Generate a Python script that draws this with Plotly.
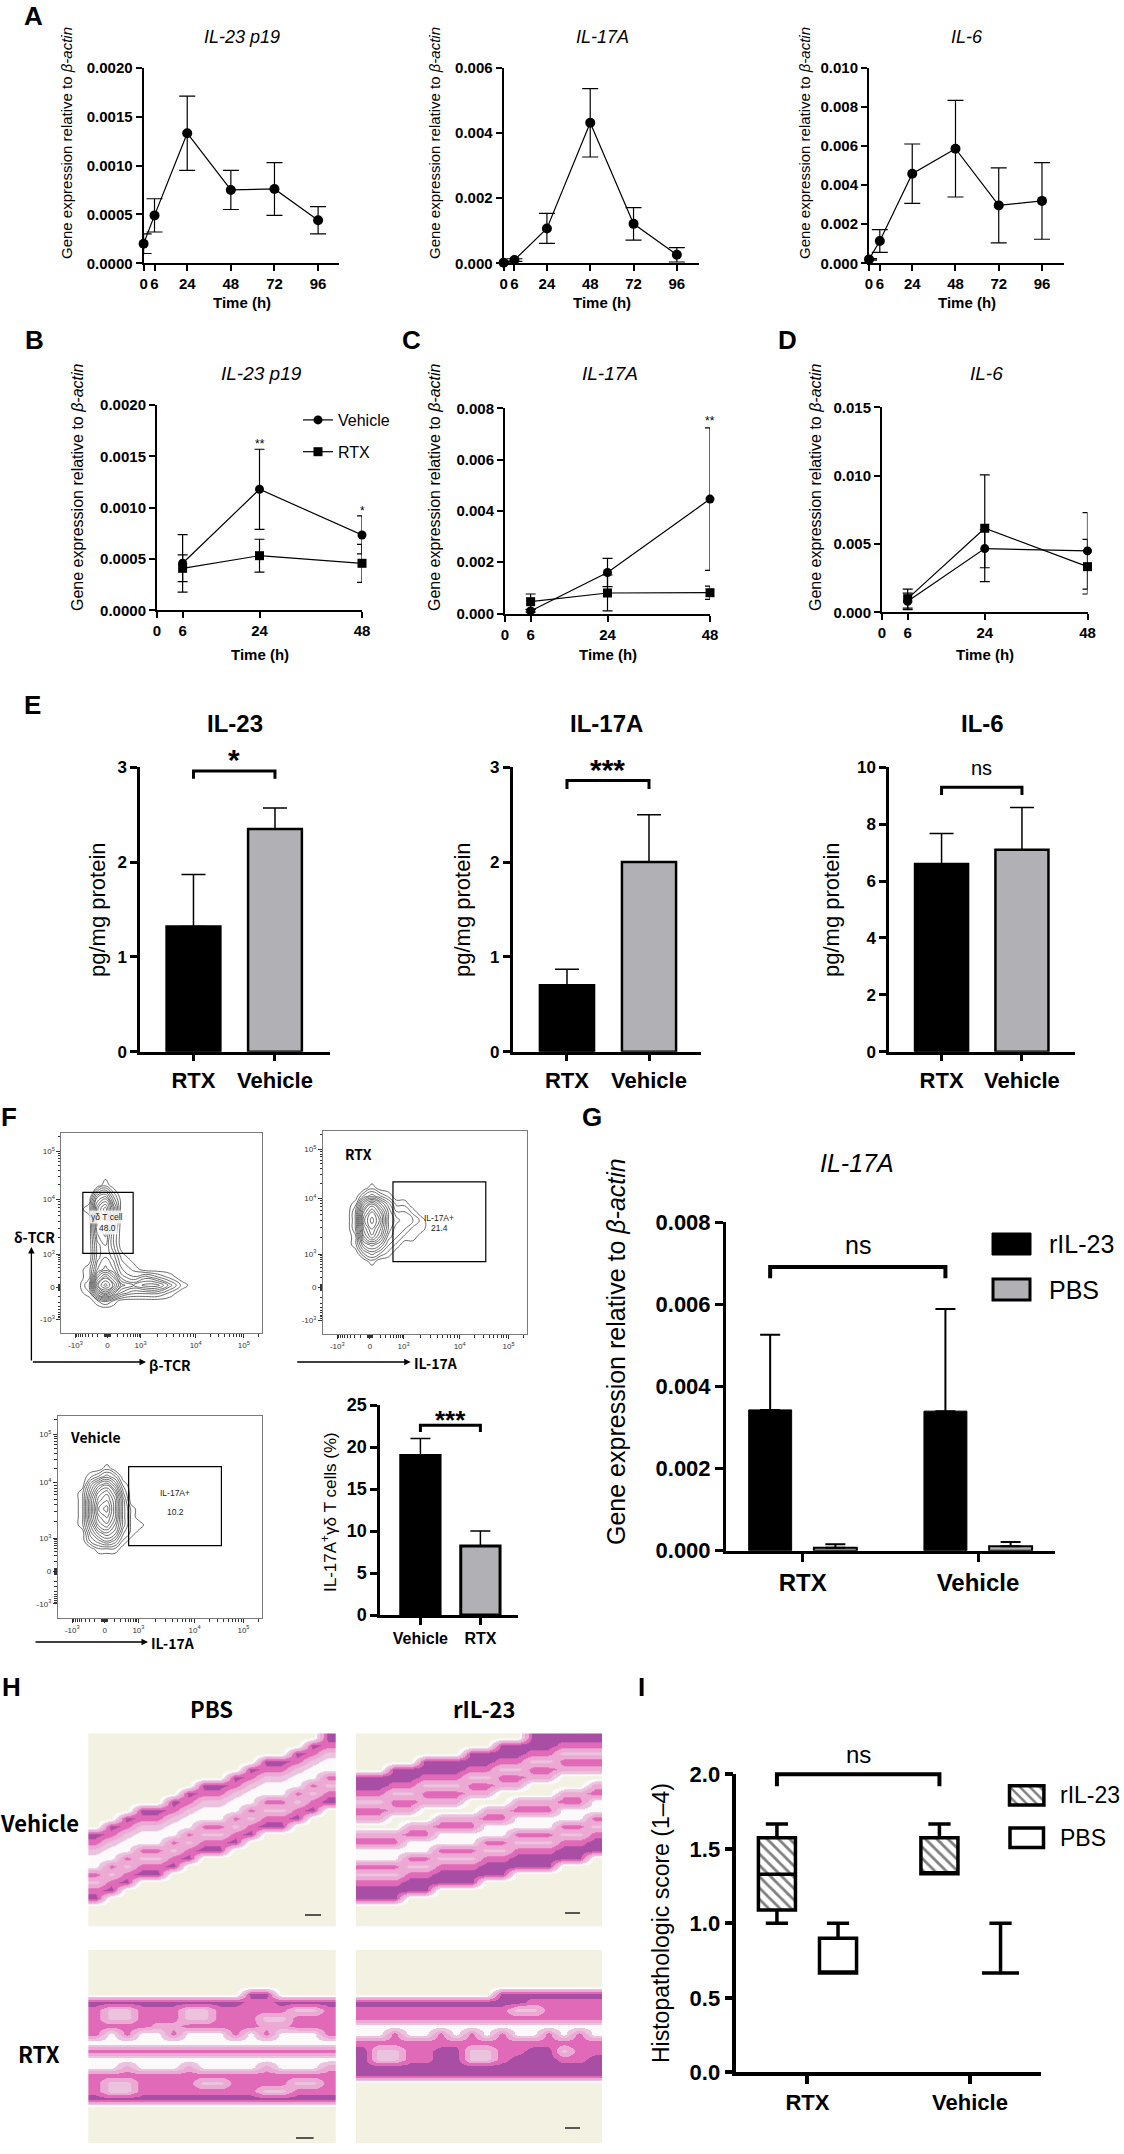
import math
import plotly.graph_objects as go

W, H = 1124, 2154
FONT = "Liberation Sans, Arial, sans-serif"
CJK = "Noto Sans CJK SC, Noto Sans, sans-serif"
GREY = "#b1b1b5"

# ======================= DATA =======================
# A: time course (gene expression relative to beta-actin)
a_time = [0, 6, 24, 48, 72, 96]
a_il23 = [0.00020, 0.00049, 0.00133, 0.00075, 0.00076, 0.00044]
a_il23_err = [0.00010, 0.00017, 0.00038, 0.00020, 0.00027, 0.00014]
a_il17 = [0.00002, 0.00010, 0.00107, 0.00431, 0.00121, 0.00026]
a_il17_err = [0.00002, 0.00004, 0.00046, 0.00105, 0.00050, 0.00022]
a_il6 = [0.00020, 0.00114, 0.00458, 0.00586, 0.00296, 0.00319]
a_il6_err = [0.00004, 0.00058, 0.00152, 0.00247, 0.00192, 0.00196]
a_titles = ["IL-23 p19", "IL-17A", "IL-6"]
a_yticks = [[0, 0.0005, 0.0010, 0.0015, 0.0020],
            [0, 0.002, 0.004, 0.006],
            [0, 0.002, 0.004, 0.006, 0.008, 0.010]]

# B-D: Vehicle vs RTX
bd_time = [6, 24, 48]
bd_xticks = [0, 6, 24, 48]
b_veh = [0.000458, 0.001179, 0.000734]
b_veh_err = [0.00028, 0.00039, 0.000185]
b_rtx = [0.000409, 0.000532, 0.000458]
b_rtx_err = [0.00013, 0.00016, 0.000185]
c_veh = [0.00010, 0.00160, 0.00446]
c_veh_err = [0.00005, 0.00055, 0.00278]
c_rtx = [0.00046, 0.00080, 0.00081]
c_rtx_err = [0.00030, 0.00070, 0.00026]
d_veh = [0.00080, 0.00466, 0.00449]
d_veh_err = [0.00060, 0.00140, 0.00280]
d_rtx = [0.00100, 0.00615, 0.00334]
d_rtx_err = [0.00070, 0.00390, 0.00200]
bd_titles = ["IL-23 p19", "IL-17A", "IL-6"]
bd_yticks = [[0, 0.0005, 0.0010, 0.0015, 0.0020],
             [0, 0.002, 0.004, 0.006, 0.008],
             [0, 0.005, 0.010, 0.015]]
b_stars = [(24, 0.00162, "**"), (48, 0.00097, "*")]
c_stars = [(48, 0.00750, "**")]

# E: ELISA protein
e_groups = ["RTX", "Vehicle"]
e_titles = ["IL-23", "IL-17A", "IL-6"]
e_means = [[1.32, 2.35], [0.70, 2.00], [6.60, 7.10]]
e_errs = [[0.55, 0.22], [0.17, 0.50], [1.07, 1.49]]
e_yticks = [[0, 1, 2, 3], [0, 1, 2, 3], [0, 2, 4, 6, 8, 10]]
e_sig_level = [2.96, 2.86, 9.3]
e_sig_text = ["*", "***", "ns"]

# F: flow cytometry (display units of biexponential axes)
flow_ticktext = ["-10<sup>3</sup>", "0", "10<sup>3</sup>", "10<sup>4</sup>", "10<sup>5</sup>"]
flow_tickpos = [7, 23, 39.5, 67, 91]
f1_x = [8, 14, 18, 22, 26, 30, 36, 42, 48, 54, 60, 66]
f1_y = [12, 16, 20, 24, 28, 32, 38, 44, 50, 56, 62, 68, 74, 80]
f1_z = [
    [0, 0, 0, 0, 0, 0, 0, 0, 0, 0, 0, 0],
    [0, 0, 1, 2, 1, 0, 0, 0, 0, 0, 0, 0],
    [0, 1, 5, 7, 5, 3, 2, 2, 2, 1, 0, 0],
    [0, 2, 8, 10, 8, 5, 4, 5, 5, 3, 1, 0],
    [0, 1, 6, 8, 6, 3, 2, 3, 2, 1, 0, 0],
    [0, 1, 4, 5, 4, 2, 1, 0, 0, 0, 0, 0],
    [0, 0, 3, 4, 3, 1, 0, 0, 0, 0, 0, 0],
    [0, 0, 3, 4, 2, 0, 0, 0, 0, 0, 0, 0],
    [0, 0, 4, 5, 2, 0, 0, 0, 0, 0, 0, 0],
    [0, 0, 5, 6, 3, 0, 0, 0, 0, 0, 0, 0],
    [0, 1, 6, 8, 4, 0, 0, 0, 0, 0, 0, 0],
    [0, 0, 4, 5, 2, 0, 0, 0, 0, 0, 0, 0],
    [0, 0, 0, 1, 0, 0, 0, 0, 0, 0, 0, 0],
    [0, 0, 0, 0, 0, 0, 0, 0, 0, 0, 0, 0],
]
f2_x = [12, 16, 20, 24, 28, 32, 36, 40, 44, 48, 52, 56]
f2_y = [32, 36, 40, 44, 48, 52, 56, 60, 64, 68, 72, 76]
f2_z = [
    [0, 0, 0, 0, 0, 0, 0, 0, 0, 0, 0, 0],
    [0, 0, 0, 1, 0, 0, 0, 0, 0, 0, 0, 0],
    [0, 0, 2, 3, 2, 1, 0, 0, 0, 0, 0, 0],
    [0, 1, 4, 5, 4, 2, 1, 0, 0, 0, 0, 0],
    [0, 1, 6, 8, 6, 3, 2, 1, 1, 0, 0, 0],
    [0, 2, 7, 9, 7, 4, 2, 2, 1, 1, 0, 0],
    [0, 2, 8, 10, 8, 4, 3, 2, 2, 1, 0, 0],
    [0, 2, 7, 9, 7, 4, 2, 2, 1, 0, 0, 0],
    [0, 1, 5, 7, 5, 3, 1, 1, 0, 0, 0, 0],
    [0, 0, 2, 3, 2, 1, 0, 0, 0, 0, 0, 0],
    [0, 0, 0, 1, 0, 0, 0, 0, 0, 0, 0, 0],
    [0, 0, 0, 0, 0, 0, 0, 0, 0, 0, 0, 0],
]
f3_x = [8, 12, 16, 20, 24, 28, 32, 36, 40, 44, 48]
f3_y = [30, 34, 38, 42, 46, 50, 54, 58, 62, 66, 70, 74, 78]
f3_z = [
    [0, 0, 0, 0, 0, 0, 0, 0, 0, 0, 0],
    [0, 0, 0, 1, 1, 1, 0, 0, 0, 0, 0],
    [0, 0, 2, 3, 4, 3, 1, 0, 0, 0, 0],
    [0, 0, 3, 5, 6, 5, 2, 1, 0, 0, 0],
    [0, 1, 4, 7, 8, 6, 3, 1, 1, 0, 0],
    [0, 1, 5, 8, 9, 7, 3, 1, 0, 0, 0],
    [0, 1, 5, 9, 10, 7, 3, 1, 0, 0, 0],
    [0, 1, 5, 8, 9, 7, 3, 0, 0, 0, 0],
    [0, 1, 4, 7, 8, 6, 2, 0, 0, 0, 0],
    [0, 0, 3, 5, 6, 4, 1, 0, 0, 0, 0],
    [0, 0, 1, 2, 3, 2, 0, 0, 0, 0, 0],
    [0, 0, 0, 0, 1, 0, 0, 0, 0, 0, 0],
    [0, 0, 0, 0, 0, 0, 0, 0, 0, 0, 0],
]
gate1 = dict(x=[10.7, 35.8], y=[40, 70.5], label="γδ T cell", value="48.0")
gate2 = dict(x=[34.3, 79.8], y=[35.7, 75], label="IL-17A+", value="21.4")
gate3 = dict(x=[34.7, 80.2], y=[35.8, 74.9], label="IL-17A+", value="10.2")

f_groups = ["Vehicle", "RTX"]
f_vals = [19.0, 8.2]
f_errs = [2.0, 1.8]
f_yticks = [0, 5, 10, 15, 20, 25]

# G: rIL-23 vs PBS
g_groups = ["RTX", "Vehicle"]
g_ril23 = [0.00343, 0.00340]
g_ril23_err = [0.00183, 0.00249]
g_pbs = [0.00007, 0.00011]
g_pbs_err = [0.00009, 0.00010]
g_yticks = [0, 0.002, 0.004, 0.006, 0.008]

# H: histology (coarse tissue map: 0 bg, 1 loose tissue, 2 dermis, 3 epidermis, 4 fat/gap, 5 gland)
h_tissue_colors = {'0': "#f2f1e2", '4': "#fcf9fb", '5': "#ebc3de", '1': "#eba9d3", '2': "#e06ab7", '3': "#a94ea5"}
h_rank = ['0', '4', '5', '1', '2', '3']          # colour order, light -> dark
h_vehicle_pbs = [
    "0000000000000003", "0000000000000032", "0000000000000325", "0000000000033254",
    "0000000000322544", "0000000003255442", "0000000332544425", "0000003225444252",
    "0000032554422523", "0003325444255230", "0032254442522300", "0325544225233000",
    "3254442552300000", "2544425223000000", "5442252330000000", "4425523000000000",
    "4252230000000000", "2523300000000000", "5230000000000000", "2300000000000000",
    "3000000000000000", "0000000000000000", "0000000000000000", "0000000000000000",
]
h_vehicle_ril23 = [
    "0000000000033333", "0000000003333222", "0000000333322555", "0000333332255222",
    "0033333225522111", "3333222552211000", "3322555221100001", "2255222110000112",
    "5522111000111224", "2211000011222444", "1100011122444442", "0001122244444225",
    "1112244444222552", "2224444422555223", "4444422255222333", "4442255522333330",
    "2225522233333000", "5552233333000000", "2223333300000000", "3333300000000000",
    "3330000000000000", "0000000000000000", "0000000000000000", "0000000000000000",
]
h_rtx_pbs = [
    "0000000000000000", "0000000000000000", "0000000000000000", "0000000000000000",
    "0000000000000000", "0000000000330000", "3333333333223333", "2552225522222552",
    "2552225522255222", "2222112222211222", "2424424442424442", "4444444444444444",
    "2222222222222222", "4444444444444444", "4414441444414441", "2222222222222222",
    "2552222552222552", "2552222222255222", "3333333333333333", "0000000000000000",
    "0000000000000000", "0000000000000000", "0000000000000000", "0000000000000000",
]
h_rtx_ril23 = [
    "0000000000000000", "0000000000000000", "0000000000000000", "0000000000000000",
    "0000000000000000", "0000000003333333", "3333333333322222", "2222222222552222",
    "2222222222222222", "4444444444444444", "4424424242442424", "2222222222222222",
    "3552233552233522", "3552233552333223", "3333333333333333", "3333333333333333",
    "0000000000000000", "0000000000000000", "0000000000000000", "0000000000000000",
    "0000000000000000", "0000000000000000", "0000000000000000", "0000000000000000",
]

# I: histopathologic score (box stats)
i_groups = ["RTX", "Vehicle"]
i_ril23_lo = [1.000, 1.333]
i_ril23_q1 = [1.090, 1.333]
i_ril23_med = [1.330, 1.333]
i_ril23_q3 = [1.575, 1.575]
i_ril23_hi = [1.667, 1.667]
i_pbs_lo = [0.667, 0.667]
i_pbs_q1 = [0.667, 0.667]
i_pbs_med = [0.667, 0.667]
i_pbs_q3 = [0.900, 0.667]
i_pbs_hi = [1.000, 1.000]
i_yticks = [0, 0.5, 1.0, 1.5, 2.0]

# ======================= LAYOUT GEOMETRY (px) =======================
POS = {
    'A1': (143.6, 339, 67.7, 263.3), 'A2': (503.6, 698.5, 67.7, 263.3), 'A3': (869, 1063.6, 67.7, 263.3),
    'B': (157, 362, 405, 610.3), 'C': (505, 710, 408.3, 613.5), 'D': (882, 1087.5, 407.3, 612.3),
    'E1': (140, 330, 767.3, 1051.7), 'E2': (512.6, 701, 767.3, 1051.7), 'E3': (889, 1075, 767.3, 1051.7),
    'F1': (61.4, 261.8, 1133.3, 1333.3), 'F2': (323, 527, 1131, 1334.3), 'F3': (57.9, 261.8, 1416, 1618),
    'Fb': (380.4, 518, 1405, 1615), 'G': (726, 1054.6, 1222.3, 1550.7),
    'H1': (88.2, 335.7, 1733.3, 1926.7), 'H2': (356, 602, 1733.3, 1926.7),
    'H3': (88.2, 335.7, 1950, 2143), 'H4': (356, 602, 1950, 2143),
    'I': (736.3, 1041, 1774.3, 2072.3),
}

fig = go.Figure()
lay = dict(width=W, height=H, margin=dict(l=0, r=0, t=0, b=0, pad=0, autoexpand=False),
           paper_bgcolor='white', plot_bgcolor='rgba(0,0,0,0)', barmode='overlay',
           boxmode='overlay', hovermode=False,
           font=dict(family=FONT, color='black'), showlegend=True)
ann, shp = [], []
_n = [0]


def make_axes(dom, xrange, yrange, xstyle, ystyle):
    _n[0] += 1
    n = _n[0]
    s = '' if n == 1 else str(n)
    x0, x1, t, b = dom
    xa = dict(domain=[x0 / W, x1 / W], range=xrange, anchor='y' + s, fixedrange=True)
    ya = dict(domain=[1 - b / H, 1 - t / H], range=yrange, anchor='x' + s, fixedrange=True)
    xa.update(xstyle)
    ya.update(ystyle)
    lay['xaxis' + s] = xa
    lay['yaxis' + s] = ya
    return 'x' + s, 'y' + s


def prism(lw, tl, fs, **kw):
    d = dict(showline=True, linecolor='black', linewidth=lw, ticks='outside', ticklen=tl,
             tickwidth=lw, tickcolor='black', showgrid=False, zeroline=False,
             tickfont=dict(family=FONT, size=fs, color='black', weight='bold'))
    d.update(kw)
    return d


HIDDEN = dict(visible=False, showgrid=False, zeroline=False)


def txt(t, x, y, size, bold=False, italic=False, angle=0, family=FONT, xanchor='center',
        yanchor='middle', xref='paper', yref='paper', color='black', bg=None):
    f = dict(family=family, size=size, color=color)
    if bold:
        f['weight'] = 'bold'
    if italic:
        f['style'] = 'italic'
    a = dict(text=t, showarrow=False, font=f, textangle=angle, xanchor=xanchor, yanchor=yanchor,
             xref=xref, yref=yref,
             x=(x / W if xref == 'paper' else x), y=(1 - y / H if yref == 'paper' else y))
    if bg:
        a['bgcolor'] = bg
    ann.append(a)


def sig(xr, yr, x0, x1, level, drop, lw):
    fig.add_trace(go.Scatter(x=[x0, x0, x1, x1], y=[level - drop, level, level, level - drop],
                             mode='lines', line=dict(color='black', width=lw), showlegend=False,
                             hoverinfo='skip', xaxis=xr, yaxis=yr))


YT = "Gene expression relative to <i>β-actin</i>"

# ---------------- Panel A ----------------
a_sets = [(a_il23, a_il23_err), (a_il17, a_il17_err), (a_il6, a_il6_err)]
a_keys = ['A1', 'A2', 'A3']
a_xmax = [107.5, 108, 108]
a_fmt = ['.4f', '.3f', '.3f']
a_ytitle_x = [66, 434, 804]
for i in range(3):
    xr, yr = make_axes(POS[a_keys[i]], [0, a_xmax[i]], [0, a_yticks[i][-1]],
                       prism(2, 6, 15, tickvals=a_time),
                       prism(2, 6, 15, tickvals=a_yticks[i], tickformat=a_fmt[i]))
    y, e = a_sets[i]
    fig.add_trace(go.Scatter(x=a_time, y=y, mode='lines+markers',
                             error_y=dict(type='data', array=e, color='black', thickness=1.2, width=8),
                             line=dict(color='black', width=1.2),
                             marker=dict(symbol='circle', size=10, color='black'),
                             showlegend=False, cliponaxis=False, xaxis=xr, yaxis=yr))
    x0, x1, t, b = POS[a_keys[i]]
    cx = x0 + (x1 - x0) * 0.506
    txt(a_titles[i], cx, 37, 18, italic=True)
    txt("Time (h)", cx, 303, 15, bold=True)
    txt(YT, a_ytitle_x[i], 143, 15, angle=-90)

# ---------------- Panels B-D ----------------
bd_sets = [(b_veh, b_veh_err, b_rtx, b_rtx_err), (c_veh, c_veh_err, c_rtx, c_rtx_err),
           (d_veh, d_veh_err, d_rtx, d_rtx_err)]
bd_keys = ['B', 'C', 'D']
bd_fmt = ['.4f', '.3f', '.3f']
bd_ytitle_x = [77, 434, 815]
bd_refs = []
for i in range(3):
    xr, yr = make_axes(POS[bd_keys[i]], [0, 48], [0, bd_yticks[i][-1]],
                       prism(2, 6, 15, tickvals=bd_xticks),
                       prism(2, 6, 15, tickvals=bd_yticks[i], tickformat=bd_fmt[i]))
    bd_refs.append((xr, yr))
    veh, veh_e, rtx, rtx_e = bd_sets[i]
    fig.add_trace(go.Scatter(x=bd_time, y=veh, mode='lines+markers', name='Vehicle',
                             legendgroup='veh', showlegend=(i == 0),
                             error_y=dict(type='data', array=veh_e, color='black', thickness=1.2, width=5),
                             line=dict(color='black', width=1.2),
                             marker=dict(symbol='circle', size=9, color='black'),
                             cliponaxis=False, xaxis=xr, yaxis=yr))
    fig.add_trace(go.Scatter(x=bd_time, y=rtx, mode='lines+markers', name='RTX',
                             legendgroup='rtx', showlegend=(i == 0),
                             error_y=dict(type='data', array=rtx_e, color='black', thickness=1.2, width=5),
                             line=dict(color='black', width=1.2),
                             marker=dict(symbol='square', size=9, color='black'),
                             cliponaxis=False, xaxis=xr, yaxis=yr))
    x0, x1, t, b = POS[bd_keys[i]]
    cx = (x0 + x1) / 2
    txt(bd_titles[i], cx + 2, 374, 19, italic=True)
    txt("Time (h)", cx, 655, 15, bold=True)
    txt(YT, bd_ytitle_x[i], 487, 16, angle=-90)

for (xv, yv, s) in b_stars:
    txt(s, xv, yv, 12, xref=bd_refs[0][0], yref=bd_refs[0][1])
for (xv, yv, s) in c_stars:
    txt(s, xv, yv, 12, xref=bd_refs[1][0], yref=bd_refs[1][1])

# ---------------- Panel E ----------------
e_keys = ['E1', 'E2', 'E3']
e_xr = [[-0.656, 1.675], [-0.663, 1.634], [-0.654, 1.66]]
e_drop = [0.08, 0.09, 0.27]
e_ytitle_x = [97, 462, 831]
e_sig_size = [30, 30, 20]
e_sig_text_px = [759, 769, 768]
for i in range(3):
    xr, yr = make_axes(POS[e_keys[i]], e_xr[i], [0, e_yticks[i][-1]],
                       prism(2.5, 7, 22, tickvals=[0, 1], ticktext=e_groups),
                       prism(2.5, 7, 17, tickvals=e_yticks[i]))
    fig.add_trace(go.Bar(x=[0, 1], y=e_means[i], width=0.66,
                         marker=dict(color=['black', GREY], line=dict(color='black', width=2.5)),
                         error_y=dict(type='data', array=e_errs[i], arrayminus=[0, 0], color='black',
                                      thickness=1.5, width=12),
                         showlegend=False, xaxis=xr, yaxis=yr))
    sig(xr, yr, 0, 1, e_sig_level[i], e_drop[i], 3)
    x0, x1, t, b = POS[e_keys[i]]
    cxb = x0 + (x1 - x0) * (0.5 - e_xr[i][0]) / (e_xr[i][1] - e_xr[i][0])
    txt(e_sig_text[i], cxb, e_sig_text_px[i], e_sig_size[i], bold=(i < 2))
    cx = (x0 + x1) / 2
    txt(e_titles[i], cx, 723, 24, bold=True)
    txt("pg/mg protein", e_ytitle_x[i], 910, 22, angle=-90)

# ---------------- Panel F: flow cytometry ----------------
flow_minor = []
for lo, hi in [(39.5, 67), (67, 91)]:
    for k in range(2, 10):
        flow_minor.append(lo + (hi - lo) * math.log10(k))
for k in (2, 3):
    flow_minor.append(91 + 24 * math.log10(k))
for k in range(2, 10):
    flow_minor.append(23 + 16.5 * math.log10(k))
    flow_minor.append(23 - 16 * math.log10(k))
flow_minor += [21.6, 22.1, 22.6, 23.4, 23.9, 24.4]


def flow_axis():
    return dict(showline=True, mirror=True, linecolor='#7a7a7a', linewidth=1, ticks='outside',
                ticklen=4, tickwidth=1, tickcolor='#333', showgrid=False, zeroline=False,
                tickmode='array', tickvals=flow_tickpos, ticktext=flow_ticktext,
                tickfont=dict(family=FONT, size=8, color='#333'),
                minor=dict(tickmode='array', tickvals=flow_minor, ticks='outside', ticklen=2.5,
                           tickwidth=0.8, tickcolor='#333'))


flows = [('F1', f1_x, f1_y, f1_z, gate1), ('F2', f2_x, f2_y, f2_z, gate2), ('F3', f3_x, f3_y, f3_z, gate3)]
for key, fx, fy, fz, gate in flows:
    xr, yr = make_axes(POS[key], [0, 100], [0, 100], flow_axis(), flow_axis())
    fig.add_trace(go.Contour(x=fx, y=fy, z=fz, showscale=False, hoverinfo='skip', showlegend=False,
                             contours=dict(start=0.5, end=10, size=0.7, coloring='none'),
                             line=dict(color='#454545', width=0.8, smoothing=1.3),
                             xaxis=xr, yaxis=yr))
    shp.append(dict(type='rect', xref=xr, yref=yr, x0=gate['x'][0], x1=gate['x'][1],
                    y0=gate['y'][0], y1=gate['y'][1], line=dict(color='black', width=1.2)))
    gx = (gate['x'][0] + gate['x'][1]) / 2 if key != 'F1' else 22.8
    ly = 58.3 if key == 'F1' else (57.2 if key == 'F2' else 61.7)
    vy = 52.6 if key != 'F2' else 52.3
    bg = 'rgba(255,255,255,0.8)' if key == 'F1' else None
    txt(gate['label'], gx, ly, 8.5, xref=xr, yref=yr, color='#222', bg=bg)
    txt(gate['value'], gx, vy, 8.5, xref=xr, yref=yr, color='#222', bg=bg)

txt("RTX", 343, 1154, 14, bold=True, family=CJK, xanchor='left')
txt("Vehicle", 68, 1437, 14, bold=True, family=CJK, xanchor='left')


def arrow(hx, hy, tx, ty):
    ann.append(dict(x=hx / W, y=1 - hy / H, xref='paper', yref='paper', ax=tx - hx, ay=ty - hy,
                    axref='pixel', ayref='pixel', showarrow=True, arrowhead=2, arrowsize=1,
                    arrowwidth=1.3, arrowcolor='black', text=''))


arrow(31.4, 1247, 31.4, 1362)
arrow(146, 1362, 31.4, 1362)
arrow(410.7, 1362, 295.7, 1362)
arrow(148, 1642, 34, 1642)
txt("δ-TCR", 34, 1237, 14, bold=True, family=CJK)
txt("β-TCR", 170, 1365, 14, bold=True, family=CJK)
txt("IL-17A", 436, 1363, 14, bold=True, family=CJK)
txt("IL-17A", 173, 1643, 14, bold=True, family=CJK)

# F bar chart
xr, yr = make_axes(POS['Fb'], [-0.667, 1.627], [0, 25],
                   prism(3, 7, 16, tickvals=[0, 1], ticktext=f_groups),
                   prism(3, 7, 18, tickvals=f_yticks))
fig.add_trace(go.Bar(x=[0, 1], y=f_vals, width=0.655,
                     marker=dict(color=['black', GREY], line=dict(color='black', width=3)),
                     error_y=dict(type='data', array=f_errs, arrayminus=[0, 0], color='black',
                                  thickness=1.5, width=10),
                     showlegend=False, xaxis=xr, yaxis=yr))
sig(xr, yr, 0, 1, 22.6, 0.8, 3)
txt("***", 0.5, 23.2, 26, bold=True, xref=xr, yref=yr)
txt("IL-17A<sup>+</sup>γδ T cells (%)", 329, 1512, 17, angle=-90)

# ---------------- Panel G ----------------
xr, yr = make_axes(POS['G'], [-0.438, 1.437], [0, 0.008],
                   prism(3, 8, 24, tickvals=[0, 1], ticktext=g_groups),
                   prism(3, 8, 22, tickvals=g_yticks, tickformat='.3f'))
fig.add_trace(go.Bar(x=[0, 1], y=g_ril23, width=0.245, offset=-0.3085,
                     marker=dict(color='black', line=dict(color='black', width=1)),
                     error_y=dict(type='data', array=g_ril23_err, arrayminus=[0, 0], color='black',
                                  thickness=2, width=10),
                     showlegend=False, xaxis=xr, yaxis=yr))
fig.add_trace(go.Bar(x=[0, 1], y=g_pbs, width=0.245, offset=0.0635,
                     marker=dict(color=GREY, line=dict(color='black', width=2)),
                     error_y=dict(type='data', array=g_pbs_err, arrayminus=[0, 0], color='black',
                                  thickness=2, width=10),
                     showlegend=False, xaxis=xr, yaxis=yr))
sig(xr, yr, -0.186, 1 - 0.186, 0.00691, 0.00027, 4)
txt("ns", 0.5 - 0.186, 0.00745, 25, xref=xr, yref=yr)
txt("<i>IL-17A</i>", 857, 1163, 25)
txt(YT, 616, 1352, 25, angle=-90)
shp.append(dict(type='rect', xref='paper', yref='paper', x0=992 / W, x1=1031 / W,
                y0=1 - 1255 / H, y1=1 - 1233 / H, fillcolor='black', line=dict(color='black', width=1)))
shp.append(dict(type='rect', xref='paper', yref='paper', x0=993 / W, x1=1030 / W,
                y0=1 - 1300 / H, y1=1 - 1279 / H, fillcolor=GREY, line=dict(color='black', width=3)))
txt("rIL-23", 1047, 1244, 25, xanchor='left')
txt("PBS", 1047, 1290, 25, xanchor='left')

# ---------------- Panel H: histology ----------------
h_cs = []
for k, code in enumerate(h_rank):
    h_cs += [[k / 6, h_tissue_colors[code]], [(k + 1) / 6, h_tissue_colors[code]]]
for key, rows in [('H1', h_vehicle_pbs), ('H2', h_vehicle_ril23), ('H3', h_rtx_pbs), ('H4', h_rtx_ril23)]:
    xr, yr = make_axes(POS[key], [-0.5, 15.5], [23.5, -0.5], HIDDEN, HIDDEN)
    fig.add_trace(go.Heatmap(z=[[h_rank.index(ch) for ch in r] for r in rows], zmin=-0.5, zmax=5.5,
                             colorscale=h_cs, showscale=False, zsmooth='best', hoverinfo='skip',
                             xaxis=xr, yaxis=yr))
for (sx0, sx1, sy) in [(305, 321, 1915), (565, 580, 1913), (296, 313.6, 2138), (565, 580, 2128)]:
    shp.append(dict(type='line', xref='paper', yref='paper', x0=sx0 / W, x1=sx1 / W,
                    y0=1 - sy / H, y1=1 - sy / H, line=dict(color='#222', width=1.5)))
txt("PBS", 211, 1708, 22, bold=True, family=CJK)
txt("rIL-23", 484, 1708, 22, bold=True, family=CJK)
txt("Vehicle", 39, 1822, 22, bold=True, family=CJK)
txt("RTX", 39, 2053, 22, bold=True, family=CJK)

# ---------------- Panel I ----------------
xr, yr = make_axes(POS['I'], [-0.438, 1.437], [0, 2],
                   prism(3.5, 8, 22, tickvals=[0, 1], ticktext=i_groups),
                   prism(3.5, 8, 22, tickvals=i_yticks, tickformat='.1f'))
I_SHIFT, I_WIDTH = 0.188, 0.228
fig.add_trace(go.Bar(x=[0, 1], y=[q3 - q1 for q1, q3 in zip(i_ril23_q1, i_ril23_q3)], base=i_ril23_q1,
                     offset=-I_SHIFT - I_WIDTH / 2, width=I_WIDTH,
                     marker=dict(color='white', line=dict(width=0),
                                 pattern=dict(shape='\\', fgcolor='black', bgcolor='white', size=8,
                                              solidity=0.35)),
                     showlegend=False, xaxis=xr, yaxis=yr))
fig.add_trace(go.Box(x=[g - I_SHIFT for g in range(len(i_groups))], q1=i_ril23_q1, median=i_ril23_med,
                     q3=i_ril23_q3, lowerfence=i_ril23_lo, upperfence=i_ril23_hi, name='rIL-23',
                     width=I_WIDTH, fillcolor='rgba(0,0,0,0)', line=dict(color='black', width=3.5),
                     whiskerwidth=0.6, boxpoints=False, showlegend=False, xaxis=xr, yaxis=yr))
fig.add_trace(go.Box(x=[g + I_SHIFT for g in range(len(i_groups))], q1=i_pbs_q1, median=i_pbs_med,
                     q3=i_pbs_q3, lowerfence=i_pbs_lo, upperfence=i_pbs_hi, name='PBS',
                     width=I_WIDTH, fillcolor='white', line=dict(color='black', width=3.5),
                     whiskerwidth=0.6, boxpoints=False, showlegend=False, xaxis=xr, yaxis=yr))
# extension axes (same scale, taller) for the significance bracket above the top tick
ix0, ix1, itop, ibot = POS['I']
ext_top = 1735
xe, ye = make_axes((ix0, ix1, ext_top, ibot), [-0.438, 1.437],
                   [0, 2 * (ibot - ext_top) / (ibot - itop)], HIDDEN, HIDDEN)
sig(xe, ye, -I_SHIFT, 1 - I_SHIFT, 2.0, 0.08, 4)
txt("ns", 0.5 - I_SHIFT, 2.13, 24, xref=xe, yref=ye)
txt("Histopathologic score (1–4)", 661, 1923, 23, angle=-90)
# legend swatches
xs, ys = make_axes((1004, 1049.4, 1781, 1809.7), [-0.16, 1.16], [-0.24, 1.24], HIDDEN, HIDDEN)
fig.add_trace(go.Bar(x=[0.5], y=[1], width=1,
                     marker=dict(color='white', line=dict(color='black', width=3.5),
                                 pattern=dict(shape='\\', fgcolor='black', bgcolor='white', size=7,
                                              solidity=0.35)),
                     showlegend=False, xaxis=xs, yaxis=ys))
shp.append(dict(type='rect', xref='paper', yref='paper', x0=1010 / W, x1=1043.5 / W,
                y0=1 - 1847.5 / H, y1=1 - 1828 / H, fillcolor='white', line=dict(color='black', width=3.5)))
txt("rIL-23", 1058, 1795, 23, xanchor='left')
txt("PBS", 1058, 1838, 23, xanchor='left')

# ---------------- Panel letters ----------------
for lt, lx, ly in [("A", 33, 16), ("B", 34, 340), ("C", 411, 340), ("D", 787, 340), ("E", 32, 705),
                   ("F", 9, 1117), ("G", 592, 1117), ("H", 11, 1687), ("I", 641, 1687)]:
    txt(lt, lx, ly, 26, bold=True)

lay['annotations'] = ann
lay['shapes'] = shp
lay['legend'] = dict(x=298 / W, y=1 - 403 / H, xanchor='left', yanchor='top',
                     bgcolor='rgba(0,0,0,0)', font=dict(family=FONT, size=16, color='black'),
                     itemwidth=30, tracegroupgap=8, traceorder='grouped')
fig.update_layout(**lay)
fig.write_html("out.html", config={'displayModeBar': False},
               post_script="document.body.style.margin='0';document.body.style.overflow='hidden';")
